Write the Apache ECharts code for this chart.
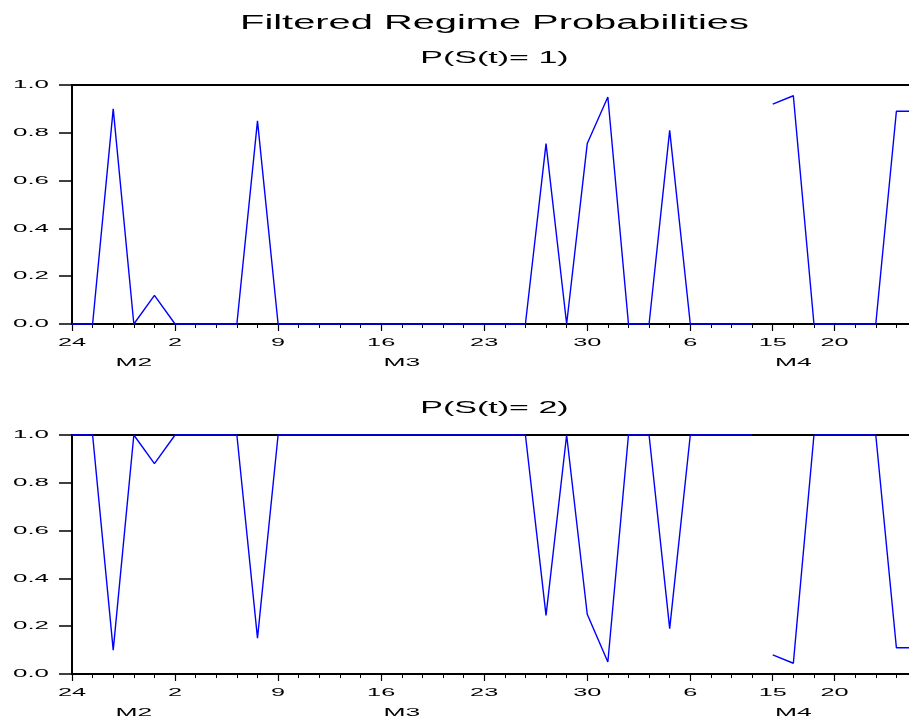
<!DOCTYPE html>
<html>
<head>
<meta charset="utf-8">
<script src="https://cdn.jsdelivr.net/npm/echarts@6/dist/echarts.min.js"></script>
<style>
  html, body { margin: 0; padding: 0; background: #fff; overflow: hidden; width: 909px; height: 719px; }
  /* the plot runs on past the right edge of the page, as in the exported graph */
  #chart { width: 940px; height: 719px; }
</style>
</head>
<body>
<div id="chart"></div>
<script>
// Trading days in the sample (no observations between 9 and 15 April)
const dates = [
  '2020-02-24', '2020-02-25', '2020-02-26', '2020-02-27', '2020-02-28',
  '2020-03-02', '2020-03-03', '2020-03-04', '2020-03-05', '2020-03-06',
  '2020-03-09', '2020-03-10', '2020-03-11', '2020-03-12', '2020-03-13',
  '2020-03-16', '2020-03-17', '2020-03-18', '2020-03-19', '2020-03-20',
  '2020-03-23', '2020-03-24', '2020-03-25', '2020-03-26', '2020-03-27',
  '2020-03-30', '2020-03-31', '2020-04-01', '2020-04-02', '2020-04-03',
  '2020-04-06', '2020-04-07', '2020-04-08', '2020-04-09',
  '2020-04-15', '2020-04-16', '2020-04-17',
  '2020-04-20', '2020-04-21', '2020-04-22', '2020-04-23', '2020-04-24'
];

// Filtered probability of regime 1
const probRegime1 = [
  0, 0, 0.90, 0, 0.12,
  0, 0, 0, 0, 0.85,
  0, 0, 0, 0, 0,
  0, 0, 0, 0, 0,
  0, 0, 0, 0.755, 0,
  0.755, 0.95, 0, 0, 0.81,
  0, 0, 0, 0,
  0.92, 0.955, 0,
  0, 0, 0, 0.89, 0.89
];

// Filtered probability of regime 2
const probRegime2 = [
  1, 1, 0.10, 1, 0.88,
  1, 1, 1, 1, 0.15,
  1, 1, 1, 1, 1,
  1, 1, 1, 1, 1,
  1, 1, 1, 0.245, 1,
  0.25, 0.05, 1, 1, 0.19,
  1, 1, 1, 1,
  0.08, 0.045, 1,
  1, 1, 1, 0.11, 0.11
];

// Observations that start a new line segment (sample break before them)
const sampleBreaks = ['2020-04-15'];

// Dates that get a long tick and a day-of-month label
const dayTickDates = [
  '2020-02-24', '2020-03-02', '2020-03-09', '2020-03-16', '2020-03-23',
  '2020-03-30', '2020-04-06', '2020-04-15', '2020-04-20'
];

// Month labels under the day labels
const monthLabelDates = ['2020-02-27', '2020-03-17', '2020-04-16'];
const monthLabelTexts = ['M2', 'M3', 'M4'];

const yTicks = [0, 0.2, 0.4, 0.6, 0.8, 1.0];
const mainTitle = 'Filtered Regime Probabilities';
const panelTitles = ['P(S(t)= 1)', 'P(S(t)= 2)'];
const panelSeries = [probRegime1, probRegime2];

const FONT = '"Liberation Sans", Arial, Helvetica, sans-serif';
const LINE_BLUE = '#0000ff';

// Split a series into pieces so the line is not joined across sample breaks
function segments(values) {
  const starts = [0].concat(sampleBreaks.map(d => dates.indexOf(d)), [dates.length]);
  const out = [];
  for (let s = 0; s < starts.length - 1; s++) {
    out.push(values.map((v, i) => (i >= starts[s] && i < starts[s + 1]) ? v : null));
  }
  return out;
}

const panels = [
  { top: 85, height: 239 },
  { top: 435, height: 239 }
];

const grid = panels.map(p => ({
  left: 72, top: p.top, width: 845, height: p.height,
  show: true, borderColor: '#000', borderWidth: 2, backgroundColor: 'transparent'
}));

const xAxis = [];
const yAxis = [];
const series = [];
panels.forEach((p, g) => {
  // short tick at every observation
  xAxis.push({
    type: 'category', gridIndex: g, data: dates, boundaryGap: false,
    axisLine: { show: true, lineStyle: { color: '#000', width: 2 } },
    axisTick: { show: true, interval: 0, length: 4, lineStyle: { color: '#000', width: 1 } },
    axisLabel: { show: false }, splitLine: { show: false }
  });
  // longer tick at labelled dates
  xAxis.push({
    type: 'category', gridIndex: g, data: dates, boundaryGap: false, position: 'bottom',
    axisLine: { show: false },
    axisTick: { show: true, interval: (i, v) => dayTickDates.includes(v), length: 7,
      lineStyle: { color: '#000', width: 1.2 } },
    axisLabel: { show: false }, splitLine: { show: false }
  });
  yAxis.push({
    type: 'value', gridIndex: g, min: 0, max: 1, interval: 0.2,
    axisLine: { show: true, lineStyle: { color: '#000', width: 2 } },
    axisTick: { show: true, length: 13, lineStyle: { color: '#000', width: 1.5 } },
    axisLabel: { show: false }, splitLine: { show: false }
  });
  segments(panelSeries[g]).forEach(seg => {
    series.push({
      type: 'line', xAxisIndex: 2 * g, yAxisIndex: g, data: seg,
      showSymbol: false, symbol: 'none', connectNulls: false, clip: false,
      lineStyle: { color: LINE_BLUE, width: 1.4 }, z: 5
    });
  });
});

const chart = echarts.init(document.getElementById('chart'), null, { renderer: 'canvas' });
chart.setOption({ animation: false, grid, xAxis, yAxis, series });

// Wide, horizontally stretched text labels placed on the axis scales
function label(x, y, text, size, stretch, align) {
  return {
    type: 'text', x, y, scaleX: stretch, scaleY: 1, silent: true, z: 10,
    style: {
      text, x: 0, y: 0, fill: '#000', fontSize: size, fontFamily: FONT,
      align, verticalAlign: 'middle'
    }
  };
}

const graphics = [];
const first = chart.convertToPixel({ xAxisIndex: 0 }, dates[0]);
const last = chart.convertToPixel({ xAxisIndex: 0 }, dates[dates.length - 1]);
const centerX = (first + last) / 2;

graphics.push(label(centerX, 23, mainTitle, 20, 1.99, 'center'));

panels.forEach((p, g) => {
  const bottom = p.top + p.height;
  graphics.push(label(centerX, p.top - 27, panelTitles[g], 17, 2.0, 'center'));
  yTicks.forEach(v => {
    const y = chart.convertToPixel({ yAxisIndex: g }, v);
    graphics.push(label(49, y, v.toFixed(1), 11.5, 2.25, 'right'));
  });
  dayTickDates.forEach(d => {
    const x = chart.convertToPixel({ xAxisIndex: 2 * g }, d);
    graphics.push(label(x, bottom + 18.5, String(Number(d.slice(8))), 11.5, 2.2, 'center'));
  });
  monthLabelDates.forEach((d, k) => {
    const x = chart.convertToPixel({ xAxisIndex: 2 * g }, d);
    graphics.push(label(x, bottom + 39, monthLabelTexts[k], 11.5, 2.3, 'center'));
  });
});

chart.setOption({ graphic: graphics });
</script>
</body>
</html>
